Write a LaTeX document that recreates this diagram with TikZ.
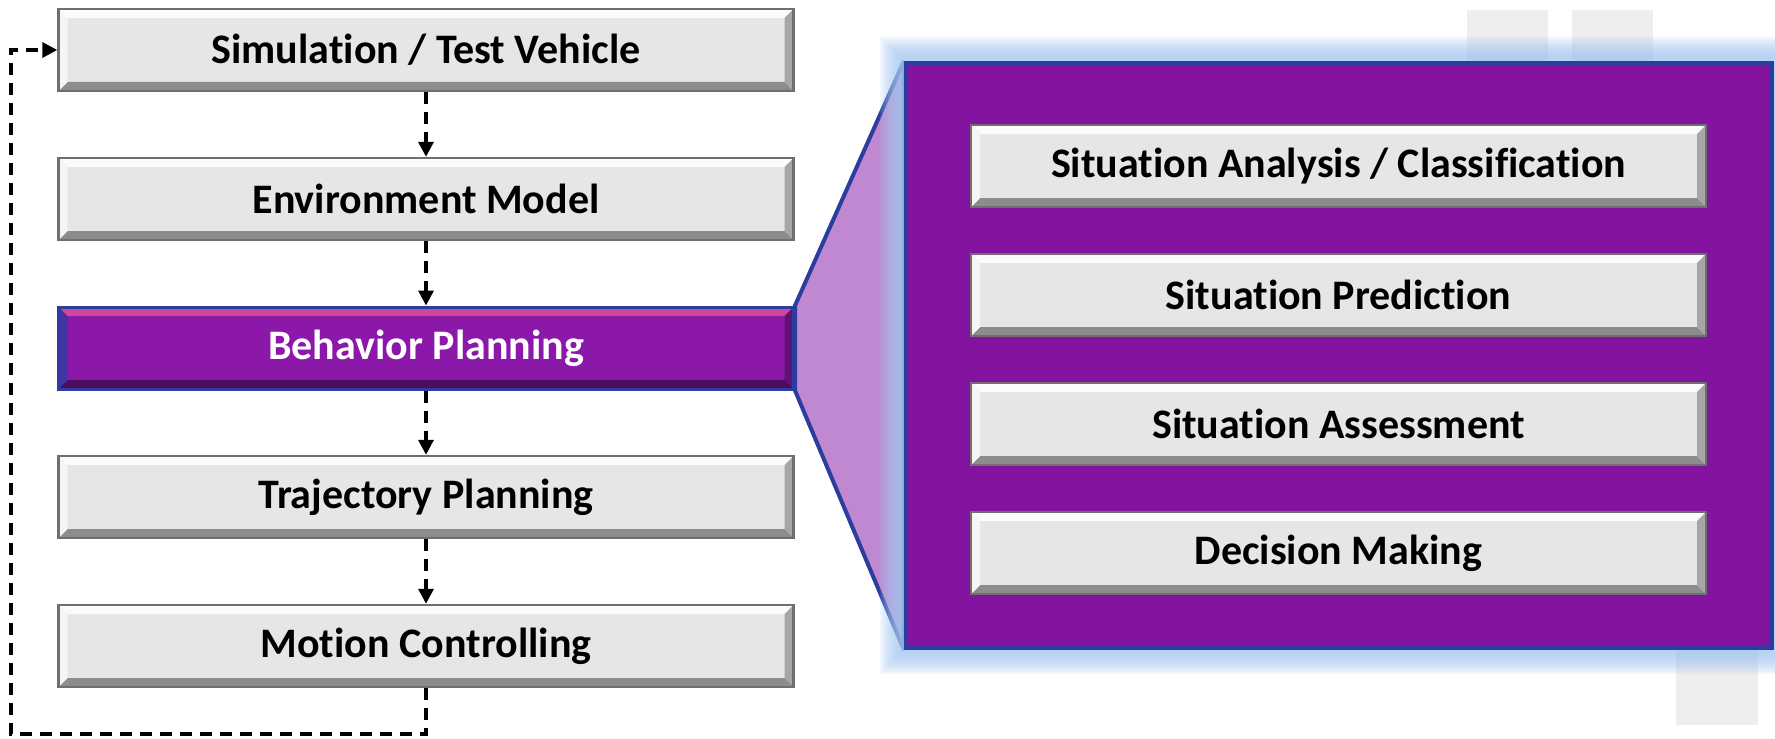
\documentclass[tikz,border=0pt]{standalone}
\usepackage{fontspec}
\setmainfont{Carlito}[RawFeature={-liga}]
\usetikzlibrary{positioning, arrows.meta, backgrounds}

\definecolor{boxgray}{HTML}{E6E6E6}
\definecolor{boxedge}{HTML}{6F6F6F}
\definecolor{purplebox}{HTML}{8C18AA}
\definecolor{panelpurple}{HTML}{84149F}
\definecolor{edgeblue}{HTML}{2B3D9E}
\definecolor{funnelpurple}{HTML}{C088D0}
\definecolor{glowblue}{HTML}{A6C8F0}
\definecolor{faintgray}{HTML}{EEEEEE}

\begin{document}
\begin{tikzpicture}[x=0.5pt, y=-0.5pt, on grid, node distance=74.5pt,
    font=\bfseries\fontsize{21}{24}\selectfont]
    \tikzset{
        % raised edges: top, bottom, left, right
        bevel/.style n args={4}{path picture={
            \fill[#1] (path picture bounding box.north west) -- (path picture bounding box.north east)
                -- ([shift={(-4.5pt,-4.5pt)}]path picture bounding box.north east)
                -- ([shift={(4.5pt,-4.5pt)}]path picture bounding box.north west) -- cycle;
            \fill[#2] (path picture bounding box.south west) -- (path picture bounding box.south east)
                -- ([shift={(-4.5pt,4.5pt)}]path picture bounding box.south east)
                -- ([shift={(4.5pt,4.5pt)}]path picture bounding box.south west) -- cycle;
            \fill[#3] (path picture bounding box.north west) -- (path picture bounding box.south west)
                -- ([shift={(4.5pt,4.5pt)}]path picture bounding box.south west)
                -- ([shift={(4.5pt,-4.5pt)}]path picture bounding box.north west) -- cycle;
            \fill[#4] (path picture bounding box.north east) -- (path picture bounding box.south east)
                -- ([shift={(-4.5pt,4.5pt)}]path picture bounding box.south east)
                -- ([shift={(-4.5pt,-4.5pt)}]path picture bounding box.north east) -- cycle;
        }},
        stage/.style={draw=boxedge, line width=1.2pt, fill=boxgray, minimum width=367.5pt,
            minimum height=41pt, inner sep=0pt,
            bevel={white!85!boxgray}{black!45}{white!60!boxgray}{black!35}},
        active/.style={stage, draw=edgeblue, line width=1.5pt, fill=purplebox, text=white,
            bevel={magenta!55!purplebox!85!white}{purplebox!55!black}{edgeblue!75!purplebox}{purplebox!70!black}},
        flow/.style={-{Triangle[length=7.5pt,width=7.5pt]}, dash pattern=on 6pt off 4pt, line width=1.7pt},
        panel/.style={fill=panelpurple, draw=edgeblue, line width=2pt,
            minimum width=433pt, minimum height=292.5pt, inner sep=0pt}
    }
    \useasboundingbox (0,0) rectangle (1775,738);

    % processing chain
    \node[stage] (sim) at (426,50) {Simulation / Test Vehicle};
    \node[stage] (env) [below=of sim] {Environment Model};
    \node[active] (beh) [below=of env] {Behavior Planning};
    \node[stage] (traj) [below=of beh] {Trajectory Planning};
    \node[stage] (motion) [below=of traj] {Motion Controlling};

    \draw[flow] (sim) -- (env);
    \draw[flow] (env) -- (beh);
    \draw[flow] (beh) -- (traj);
    \draw[flow] (traj) -- (motion);
    \coordinate (loop) at (11,734);
    \draw[flow] (motion.south) |- (loop) |- (sim.west);

    % zoom into behavior planning
    \node[panel] (panel) at (1339,355.5) {};
    \node[stage] (analysis) at (1338.5,166) {Situation Analysis / Classification};
    \node[stage] (prediction) [below=64.5pt of analysis] {Situation Prediction};
    \node[stage] (assessment) [below=64.5pt of prediction] {Situation Assessment};
    \node[stage] (decision) [below=64.5pt of assessment] {Decision Making};

    \begin{scope}[on background layer]
        \fill[faintgray] (1467,10) rectangle (1548,120);
        \fill[faintgray] (1572,10) rectangle (1653,120);
        \fill[faintgray] (1676,620) rectangle (1758,725);
        \draw[fill=funnelpurple, draw=edgeblue, line width=2pt, line join=bevel]
            (beh.north east) -- (panel.north west) -- (panel.south west) -- (beh.south east) -- cycle;
        % soft glow round the panel
        \foreach \w in {2,...,12}
            \draw[glowblue, line width=2*\w pt, opacity=0.14] (panel.north west) rectangle (panel.south east);
    \end{scope}
\end{tikzpicture}
\end{document}
